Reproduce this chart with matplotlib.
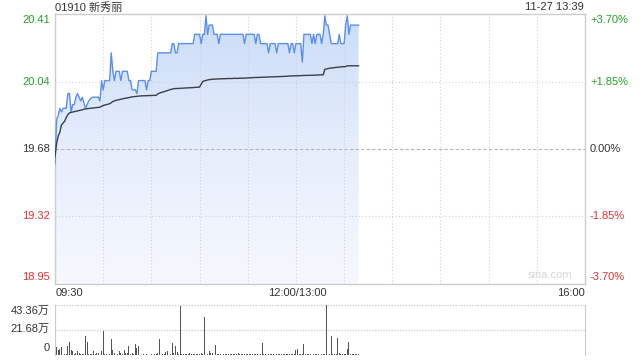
import numpy as np
import matplotlib
matplotlib.use("Agg")
import matplotlib.pyplot as plt
from matplotlib.colors import LinearSegmentedColormap

plt.rcParams['font.family'] = ['Liberation Sans', 'Noto Sans CJK SC', 'DejaVu Sans']

title = "01910 新秀丽"
stamp = "11-27 13:39"
prev_close = 19.68
price_ticks = [20.41, 20.04, 19.68, 19.32, 18.95]
pct_labels = ["+3.70%", "+1.85%", "0.00%", "-1.85%", "-3.70%"]
time_labels = ["09:30", "12:00/13:00", "16:00"]
vol_labels = ["43.36万", "21.68万", "0"]
vol_ticks = [43.36, 21.68, 0]

price = [
    19.60, 19.84, 19.86, 19.90, 19.88, 19.90, 19.90, 19.90, 19.98, 19.98,
    19.88, 19.92, 19.92, 19.96, 19.98, 19.96, 19.94, 19.96, 19.93, 19.90,
    19.92, 19.94, 19.95, 19.96, 19.96, 19.96, 19.96, 19.96, 19.94, 20.05,
    20.00, 20.05, 20.05, 20.05, 20.05, 20.20, 20.10, 20.05, 20.10, 20.10,
    20.10, 20.05, 20.10, 20.10, 20.10, 20.10, 20.05, 20.05, 20.00, 20.00,
    20.00, 19.98, 20.05, 20.05, 20.05, 20.05, 20.05, 20.00, 20.05, 20.05,
    20.10, 20.10, 20.10, 20.10, 20.20, 20.20, 20.20, 20.20, 20.20, 20.20,
    20.20, 20.20, 20.20, 20.25, 20.25, 20.20, 20.20, 20.25, 20.25, 20.25,
    20.25, 20.25, 20.25, 20.25, 20.25, 20.25, 20.25, 20.30, 20.30, 20.30,
    20.30, 20.25, 20.30, 20.30, 20.40, 20.30, 20.35, 20.35, 20.35, 20.30,
    20.30, 20.30, 20.25, 20.30, 20.30, 20.30, 20.30, 20.30, 20.30, 20.30,
    20.30, 20.30, 20.30, 20.30, 20.30, 20.30, 20.30, 20.30, 20.25, 20.30,
    20.30, 20.30, 20.30, 20.30, 20.30, 20.25, 20.30, 20.30, 20.25, 20.25,
    20.25, 20.25, 20.25, 20.20, 20.25, 20.25, 20.25, 20.25, 20.20, 20.25,
    20.25, 20.25, 20.25, 20.25, 20.25, 20.25, 20.20, 20.25, 20.25, 20.20,
    20.25, 20.25, 20.25, 20.25, 20.15, 20.30, 20.30, 20.30, 20.30, 20.30,
    20.25, 20.30, 20.25, 20.30, 20.30, 20.30, 20.25, 20.30, 20.40, 20.35,
    20.35, 20.30, 20.25, 20.25, 20.25, 20.25, 20.25, 20.30, 20.25, 20.25,
    20.25, 20.35, 20.40, 20.30, 20.35, 20.35, 20.35, 20.35, 20.35, 20.35,
]

avg = [
    19.64, 19.71, 19.75, 19.77, 19.81, 19.82, 19.83, 19.85, 19.866, 19.875,
    19.878, 19.88, 19.882, 19.884, 19.886, 19.888, 19.89, 19.892, 19.895, 19.897,
    19.898, 19.899, 19.90, 19.901, 19.902, 19.903, 19.904, 19.905, 19.906, 19.911,
    19.915, 19.918, 19.92, 19.922, 19.925, 19.93, 19.937, 19.94, 19.943, 19.945,
    19.947, 19.949, 19.951, 19.953, 19.955, 19.956, 19.958, 19.96, 19.962, 19.963,
    19.964, 19.965, 19.966, 19.967, 19.967, 19.968, 19.968, 19.968, 19.969, 19.969,
    19.969, 19.97, 19.97, 19.97, 19.978, 19.982, 19.985, 19.988, 19.99, 19.993,
    19.996, 19.999, 20.002, 20.004, 20.006, 20.007, 20.007, 20.008, 20.008, 20.009,
    20.009, 20.010, 20.010, 20.011, 20.011, 20.012, 20.012, 20.013, 20.014, 20.014,
    20.015, 20.03, 20.045, 20.048, 20.051, 20.053, 20.055, 20.056, 20.057, 20.058,
    20.058, 20.059, 20.059, 20.059, 20.060, 20.060, 20.060, 20.061, 20.061, 20.061,
    20.061, 20.062, 20.062, 20.062, 20.062, 20.063, 20.063, 20.063, 20.063, 20.064,
    20.064, 20.065, 20.065, 20.066, 20.066, 20.067, 20.067, 20.067, 20.068, 20.068,
    20.068, 20.069, 20.069, 20.069, 20.070, 20.070, 20.070, 20.071, 20.071, 20.071,
    20.072, 20.072, 20.072, 20.073, 20.073, 20.074, 20.075, 20.075, 20.075, 20.076,
    20.076, 20.076, 20.076, 20.077, 20.077, 20.078, 20.078, 20.078, 20.078, 20.079,
    20.079, 20.079, 20.080, 20.080, 20.080, 20.081, 20.081, 20.081, 20.11, 20.113,
    20.115, 20.117, 20.118, 20.119, 20.12, 20.121, 20.122, 20.123, 20.124, 20.125,
    20.125, 20.126, 20.13, 20.13, 20.13, 20.13, 20.13, 20.13, 20.13, 20.13,
]

volume = [
    1.0, 6.9, 4.9, 5.8, 6.9, 6.9, 1.0, 1.5, 8.1, 11.8,
    4.6, 4.0, 1.2, 2.0, 3.5, 2.0, 1.0, 1.5, 1.0, 16.8,
    11.0, 1.5, 1.2, 1.0, 3.5, 1.0, 2.0, 2.0, 1.0, 3.5,
    21.1, 1.2, 1.0, 2.9, 1.2, 14.2, 4.3, 2.0, 2.9, 1.0,
    3.5, 2.0, 1.0, 4.9, 2.0, 2.0, 8.1, 1.2, 2.0, 1.0,
    9.8, 6.4, 8.1, 0.6, 0.6, 0.8, 0.6, 0.7, 0.6, 0.6,
    1.0, 7.2, 1.0, 1.2, 2.0, 14.2, 2.0, 1.2, 1.0, 2.9,
    4.0, 4.0, 1.0, 10.7, 2.0, 8.1, 2.9, 1.0, 41.9, 1.2,
    1.0, 1.2, 1.0, 1.2, 2.0, 1.0, 1.2, 1.0, 1.2, 1.0,
    1.0, 2.0, 1.0, 32.4, 2.9, 1.0, 4.0, 2.3, 2.3, 4.6,
    9.0, 1.0, 0.8, 1.0, 0.8, 1.0, 0.8, 1.0, 0.8, 1.2,
    0.8, 1.0, 0.8, 1.0, 2.0, 0.8, 1.0, 0.8, 1.0, 0.8,
    1.0, 0.8, 1.0, 0.8, 1.0, 0.8, 1.0, 0.8, 1.0, 10.7,
    1.0, 0.8, 1.0, 0.8, 1.0, 0.8, 1.0, 0.8, 1.0, 0.8,
    1.0, 0.8, 1.0, 0.8, 1.0, 0.8, 1.0, 0.8, 1.0, 0.8,
    4.6, 5.8, 1.0, 0.8, 1.0, 9.8, 1.0, 0.8, 1.0, 0.8,
    1.0, 0.8, 1.0, 0.8, 1.0, 0.8, 1.0, 0.8, 1.2, 43.36,
    12.7, 1.0, 16.2, 1.0, 0.8, 1.0, 14.5, 2.0, 1.0, 0.8,
    1.0, 1.0, 5.8, 11.8, 1.0, 0.8, 1.0, 0.8, 1.0, 0.8,
]

W, H = 640, 360
fig = plt.figure(figsize=(6.4, 3.6), dpi=100)
fig.patch.set_facecolor("white")

def fx(px):
    return px / W

def fy(py):
    return 1 - py / H

L, R = 55, 585
T, B = 14, 284
ax = fig.add_axes([fx(L), fy(B), fx(R - L), (B - T) / H])
top, bot = price_ticks[0], price_ticks[-1]
ax.set_xlim(0, 330)
ax.set_ylim(bot, top)

x = np.arange(len(price))
# gradient fill under price line
cmap = LinearSegmentedColormap.from_list("g", ["#f6f8fe", "#e6eefc", "#cadcf8"])
grad = np.linspace(0, 1, 256).reshape(-1, 1)
im = ax.imshow(grad, extent=[0, 330, bot, top], origin="lower", aspect="auto",
               cmap=cmap, zorder=1)
poly = ax.fill_between(x, price, bot, color="none", lw=0)
im.set_clip_path(poly.get_paths()[0], transform=ax.transData)

# grid
for t in range(30, 330, 30):
    ax.axvline(t, color="#d2d2d2", lw=0.8, ls=(0, (1, 2)), zorder=2)
for p in [price_ticks[1], price_ticks[3]]:
    ax.axhline(p, color="#d2d2d2", lw=0.8, ls=(0, (1, 2)), zorder=2)
ax.axhline(prev_close, color="#b5b5b5", lw=0.8, ls=(0, (3, 2)), zorder=2)

ax.plot(x, price, color="#5b8fec", lw=1.0, zorder=4)
ax.plot(x, avg, color="#3a3f48", lw=1.0, zorder=5)

for s in ax.spines.values():
    s.set_color("#cccccc")
    s.set_linewidth(1)
ax.set_xticks([])
ax.set_yticks([])

ax.text(322, bot + 0.05, "sina.com", color="#d8d8d8", fontsize=8,
        ha="right", va="center", zorder=6)

green = "#22a022"
red = "#e53030"
dark = "#333333"
colors = [green, green, dark, red, red]
fs = 8
for p, lab, pl, c in zip(price_ticks, [f"{v:.2f}" for v in price_ticks], pct_labels, colors):
    yy = ax.transData.transform((0, p))[1]
    ypx = H - yy
    ypx = min(max(ypx, T + 6), B - 7)
    fig.text(fx(50), fy(ypx), lab, color=c, fontsize=fs, ha="right", va="center")
    fig.text(fx(590), fy(ypx), pl, color=c, fontsize=fs, ha="left", va="center")

fig.text(fx(55), fy(7.5), title, color=dark, fontsize=fs, ha="left", va="center")
fig.text(fx(584), fy(7.5), stamp, color=dark, fontsize=fs, ha="right", va="center")

fig.text(fx(56), fy(293), time_labels[0], color=dark, fontsize=fs, ha="left", va="center")
fig.text(fx(297), fy(293), time_labels[1], color=dark, fontsize=fs, ha="center", va="center")
fig.text(fx(585), fy(293), time_labels[2], color=dark, fontsize=fs, ha="right", va="center")

# volume pane
VT, VB = 304.7, 355.3
vax = fig.add_axes([fx(L), fy(VB), fx(R - L), (VB - VT) / H])
vax.set_xlim(0, 330)
vax.set_ylim(0, vol_ticks[0])
vax.bar(np.arange(len(volume)), volume, width=0.55, color="#555555", zorder=3)
for v in vol_ticks[:2]:
    vax.axhline(v, color="#cfcfcf", lw=1.0, ls=(0, (1, 1)), zorder=1, clip_on=False)
vax.axhline(0, color="#e0e0e0", lw=0.6, ls=(0, (1, 1)), zorder=1)
for side in ["top", "bottom"]:
    vax.spines[side].set_visible(False)
for side in ["left", "right"]:
    vax.spines[side].set_color("#cccccc")
vax.set_xticks([])
vax.set_yticks([])
vax.patch.set_alpha(0)

for lab, ypx in zip(vol_labels, [311, 328.5, 348]):
    fig.text(fx(50), fy(ypx), lab, color=dark, fontsize=fs, ha="right", va="center")

fig.savefig("out.png", dpi=100, facecolor="white")
